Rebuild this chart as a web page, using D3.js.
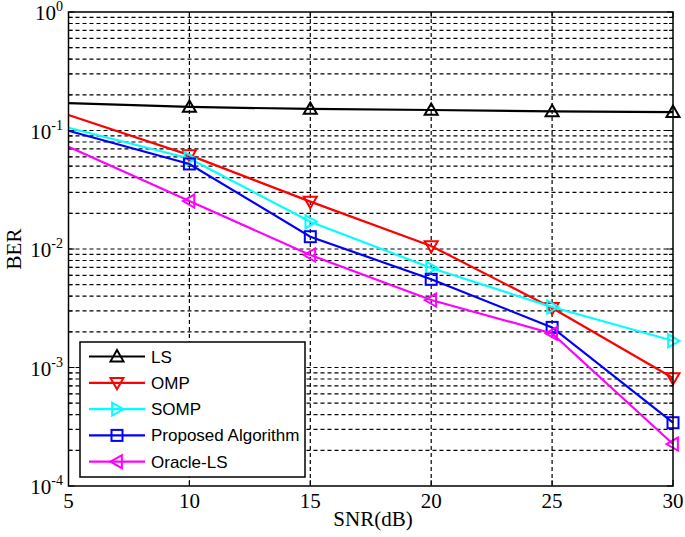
<!DOCTYPE html>
<html><head><meta charset="utf-8">
<script src="https://cdn.jsdelivr.net/npm/d3@7"></script>
<style>body{margin:0;background:#fff}</style>
</head><body>
<script>
const snr = [5, 10, 15, 20, 25, 30];
const berLS       = [0.170, 0.158, 0.152, 0.149, 0.145, 0.143];
const berOMP      = [0.135, 0.062, 0.0251, 0.0106, 0.00318, 0.000815];
const berSOMP     = [0.1056, 0.058, 0.0170, 0.00691, 0.00324, 0.00168];
const berProposed = [0.0996, 0.0522, 0.0127, 0.00555, 0.00218, 0.000342];
const berOracle   = [0.073, 0.0254, 0.0089, 0.00371, 0.00194, 0.000226];
const seriesNames = ["LS", "OMP", "SOMP", "Proposed Algorithm", "Oracle-LS"];
const seriesColors = ["#000000", "#ff0000", "#00ffff", "#0000ff", "#ff00ff"];
const seriesMarkers = ["up", "down", "right", "square", "left"];
const xTicks = [5, 10, 15, 20, 25, 30];
const yExponents = [0, -1, -2, -3, -4];

const W = 685, H = 537;
const L = 68.5, R = 673, T = 12, B = 486;
const svg = d3.select("body").append("svg").attr("width", W).attr("height", H);
const x = d3.scaleLinear().domain([5, 30]).range([L, R]);
const y = d3.scaleLog().domain([1e-4, 1]).range([B, T]);

// grid
const g = svg.append("g");
const minorVals = [];
for (let e = -4; e < 0; e++) for (let m = 1; m <= 9; m++) minorVals.push(m * Math.pow(10, e));
g.selectAll("line.h").data(minorVals.filter(v => v > 1e-4)).enter().append("line")
  .attr("x1", L).attr("x2", R).attr("y1", d => y(d)).attr("y2", d => y(d))
  .attr("stroke", "#000").attr("stroke-width", 1.2).attr("stroke-dasharray", "4,3");
g.selectAll("line.v").data(xTicks.slice(1, -1)).enter().append("line")
  .attr("x1", d => x(d)).attr("x2", d => x(d)).attr("y1", T).attr("y2", B)
  .attr("stroke", "#000").attr("stroke-width", 1.2).attr("stroke-dasharray", "4,3");

// ticks inward
const tk = svg.append("g").attr("stroke", "#000").attr("stroke-width", 1);
minorVals.concat([1]).forEach(v => {
  const major = Math.abs(Math.log10(v) - Math.round(Math.log10(v))) < 1e-9;
  const len = major ? 6 : 4;
  tk.append("line").attr("x1", L).attr("x2", L + len).attr("y1", y(v)).attr("y2", y(v));
  tk.append("line").attr("x1", R).attr("x2", R - len).attr("y1", y(v)).attr("y2", y(v));
});
xTicks.forEach(v => {
  tk.append("line").attr("x1", x(v)).attr("x2", x(v)).attr("y1", B).attr("y2", B - 6);
  tk.append("line").attr("x1", x(v)).attr("x2", x(v)).attr("y1", T).attr("y2", T + 6);
});

// series
const allData = [berLS, berOMP, berSOMP, berProposed, berOracle];
const line = d3.line().x(d => x(d[0])).y(d => y(d[1]));
function marker(sel, type, cx, cy, color) {
  const s = 6.5;
  let p;
  if (type === "square") {
    sel.append("rect").attr("x", cx - 5.5).attr("y", cy - 5.5).attr("width", 11).attr("height", 11)
      .attr("fill", "none").attr("stroke", color).attr("stroke-width", 2);
    return;
  }
  if (type === "up") p = [[cx, cy - s], [cx - s, cy + s * 0.75], [cx + s, cy + s * 0.75]];
  if (type === "down") p = [[cx, cy + s], [cx - s, cy - s * 0.75], [cx + s, cy - s * 0.75]];
  if (type === "right") p = [[cx + s, cy], [cx - s * 0.75, cy - s], [cx - s * 0.75, cy + s]];
  if (type === "left") p = [[cx - s, cy], [cx + s * 0.75, cy - s], [cx + s * 0.75, cy + s]];
  sel.append("polygon").attr("points", p.map(q => q.join(",")).join(" "))
    .attr("fill", "none").attr("stroke", color).attr("stroke-width", 2);
}
allData.forEach((vals, i) => {
  const pts = snr.map((s, j) => [s, vals[j]]);
  svg.append("path").attr("d", line(pts)).attr("fill", "none")
    .attr("stroke", seriesColors[i]).attr("stroke-width", 2.2);
  const mg = svg.append("g");
  pts.slice(1).forEach(p => marker(mg, seriesMarkers[i], x(p[0]), y(p[1]), seriesColors[i]));
});

// frame
svg.append("rect").attr("x", L).attr("y", T).attr("width", R - L).attr("height", B - T)
  .attr("fill", "none").attr("stroke", "#000").attr("stroke-width", 1.5);

// tick labels
const serif = "'Liberation Serif', 'Times New Roman', serif";
xTicks.forEach(v => {
  svg.append("text").attr("x", x(v)).attr("y", 508).attr("text-anchor", "middle")
    .attr("font-family", serif).attr("font-size", 21).text(v);
});
yExponents.forEach(e => {
  const t = svg.append("text").attr("x", 63).attr("y", y(Math.pow(10, e)) + 8).attr("text-anchor", "end")
    .attr("font-family", serif).attr("font-size", 21);
  t.append("tspan").text("10");
  t.append("tspan").attr("dy", -9).attr("font-size", 14).text(e);
});
svg.append("text").attr("x", 373).attr("y", 526).attr("text-anchor", "middle")
  .attr("font-family", serif).attr("font-size", 21).text("SNR(dB)");
svg.append("text").attr("transform", "translate(21,249) rotate(-90)").attr("text-anchor", "middle")
  .attr("font-family", serif).attr("font-size", 21).text("BER");

// legend
const lg = svg.append("g");
lg.append("rect").attr("x", 80).attr("y", 342).attr("width", 225).attr("height", 135)
  .attr("fill", "#fff").attr("stroke", "#000").attr("stroke-width", 1.5);
seriesNames.forEach((n, i) => {
  const ly = 356.5 + i * 26.3;
  lg.append("line").attr("x1", 89).attr("x2", 145).attr("y1", ly).attr("y2", ly)
    .attr("stroke", seriesColors[i]).attr("stroke-width", 2.2);
  marker(lg, seriesMarkers[i], 117, ly, seriesColors[i]);
  lg.append("text").attr("x", 151).attr("y", ly + 6).attr("font-family", "'Liberation Sans', Arial, sans-serif")
    .attr("font-size", 17).text(n);
});
</script>
</body></html>
